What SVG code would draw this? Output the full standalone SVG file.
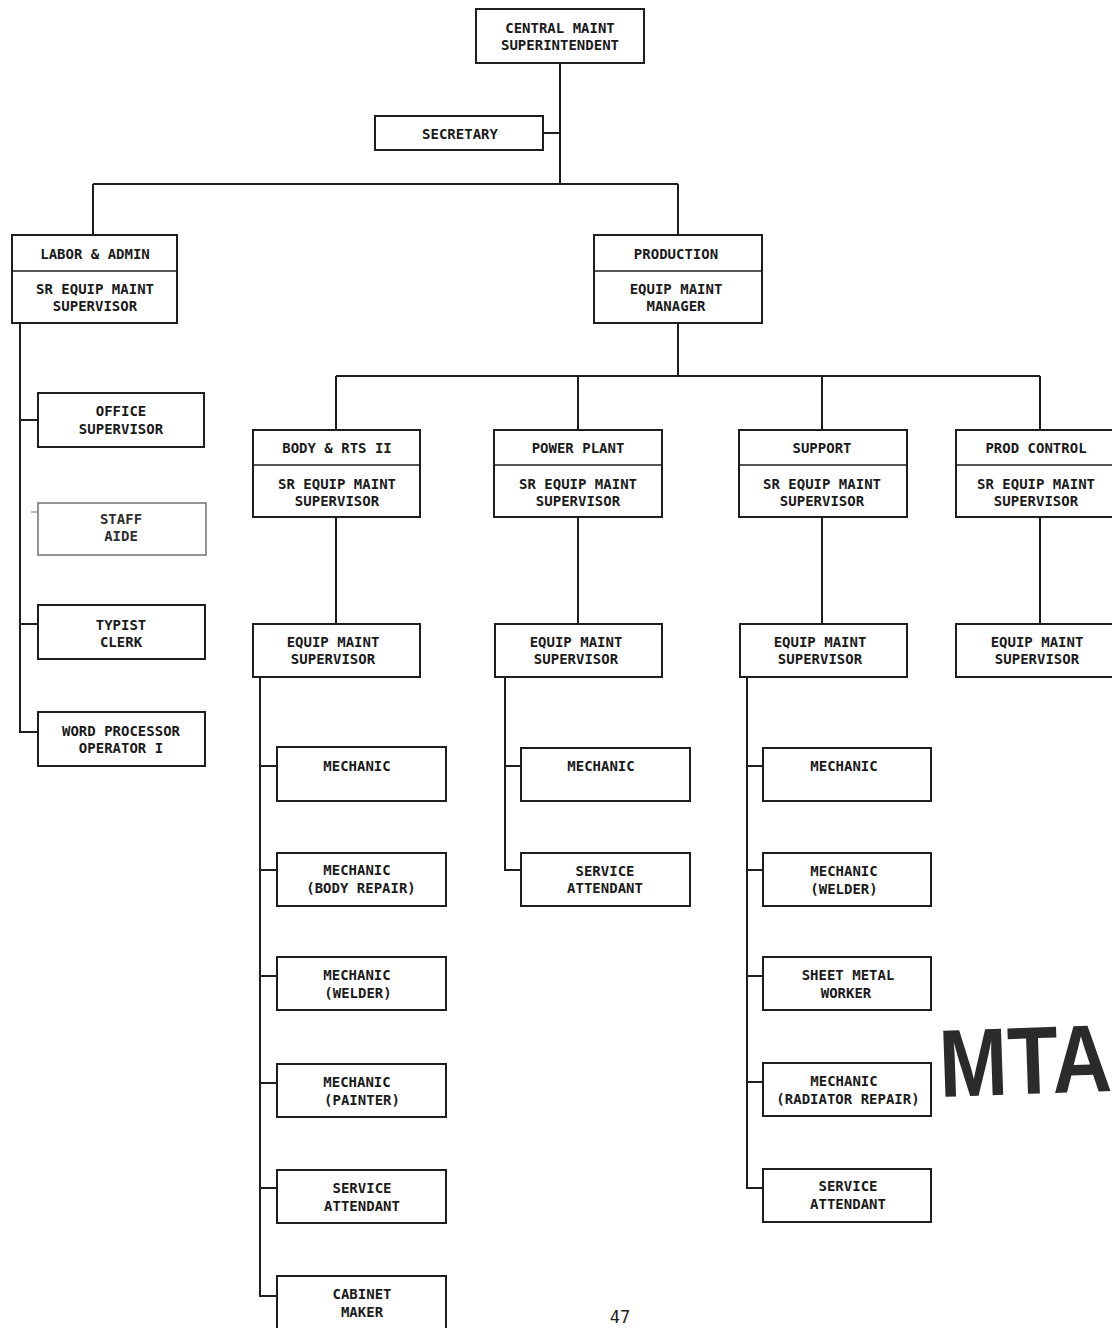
<svg xmlns="http://www.w3.org/2000/svg" width="1112" height="1328" viewBox="0 0 1112 1328">
<style>
  .box { fill: #ffffff; stroke: #1e1e1e; stroke-width: 2; }
  .faint { fill: #ffffff; stroke: #7a7a7a; stroke-width: 1.6; }
  .div { stroke: #1e1e1e; stroke-width: 1.6; }
  .t { font-family: "DejaVu Sans Mono", "Liberation Mono", monospace; font-weight: bold; font-size: 14px; fill: #1a1a1a; text-anchor: middle; }
  .tf { fill: #2e2e2e; }
  .conn line, .conn path { stroke: #1e1e1e; stroke-width: 2; fill: none; }
  .conn .fl { stroke: #a0a0a0; stroke-width: 1.5; }
  .stamp { font-family: "Liberation Sans", "DejaVu Sans", sans-serif; font-weight: bold; font-size: 96px; fill: #2b2b2b; }
  .page { font-family: "DejaVu Sans Mono", "Liberation Mono", monospace; font-size: 17px; fill: #222; text-anchor: middle; }
</style>
<rect x="0" y="0" width="1112" height="1328" fill="#ffffff"/>

<g class="conn" id="connectors">
  <line x1="560" y1="63" x2="560" y2="184"/>
  <line x1="543" y1="133" x2="560" y2="133"/>
  <line x1="93" y1="184" x2="678" y2="184"/>
  <line x1="93" y1="184" x2="93" y2="235"/>
  <line x1="678" y1="184" x2="678" y2="235"/>
  <line x1="678" y1="323" x2="678" y2="376"/>
  <line x1="336" y1="376" x2="1040" y2="376"/>
  <line x1="336" y1="376" x2="336" y2="430"/>
  <line x1="578" y1="376" x2="578" y2="430"/>
  <line x1="822" y1="376" x2="822" y2="430"/>
  <line x1="1040" y1="376" x2="1040" y2="430"/>
  <line x1="336" y1="517" x2="336" y2="624"/>
  <line x1="578" y1="517" x2="578" y2="624"/>
  <line x1="822" y1="517" x2="822" y2="624"/>
  <line x1="1040" y1="517" x2="1040" y2="624"/>
  <!-- labor & admin column -->
  <path d="M20 323 V732 H38"/>
  <line x1="20" y1="420" x2="38" y2="420"/>
  <line class="fl" x1="31" y1="512" x2="38" y2="512"/>
  <line x1="20" y1="624" x2="38" y2="624"/>
  <!-- body column -->
  <path d="M260 677 V1296 H277"/>
  <line x1="260" y1="766" x2="277" y2="766"/>
  <line x1="260" y1="870" x2="277" y2="870"/>
  <line x1="260" y1="976" x2="277" y2="976"/>
  <line x1="260" y1="1083" x2="277" y2="1083"/>
  <line x1="260" y1="1188" x2="277" y2="1188"/>
  <!-- power plant column -->
  <path d="M505 677 V870 H521"/>
  <line x1="505" y1="766" x2="521" y2="766"/>
  <!-- support column -->
  <path d="M747 677 V1188 H763"/>
  <line x1="747" y1="766" x2="763" y2="766"/>
  <line x1="747" y1="870" x2="763" y2="870"/>
  <line x1="747" y1="976" x2="763" y2="976"/>
  <line x1="747" y1="1082" x2="763" y2="1082"/>
</g>

<g id="central">
  <rect class="box" x="476" y="9" width="168" height="54"/>
  <text class="t" x="560" y="33">CENTRAL MAINT</text>
  <text class="t" x="560" y="50">SUPERINTENDENT</text>
</g>
<g id="secretary">
  <rect class="box" x="375" y="116" width="168" height="34"/>
  <text class="t" x="460" y="139">SECRETARY</text>
</g>
<g id="labor-admin">
  <rect class="box" x="12" y="235" width="165" height="88"/>
  <line class="div" x1="12" y1="271" x2="177" y2="271"/>
  <text class="t" x="95" y="259">LABOR &amp; ADMIN</text>
  <text class="t" x="95" y="294">SR EQUIP MAINT</text>
  <text class="t" x="95" y="311">SUPERVISOR</text>
</g>
<g id="production">
  <rect class="box" x="594" y="235" width="168" height="88"/>
  <line class="div" x1="594" y1="271" x2="762" y2="271"/>
  <text class="t" x="676" y="259">PRODUCTION</text>
  <text class="t" x="676" y="294">EQUIP MAINT</text>
  <text class="t" x="676" y="311">MANAGER</text>
</g>

<g id="office-supervisor">
  <rect class="box" x="38" y="393" width="166" height="54"/>
  <text class="t" x="121" y="416">OFFICE</text>
  <text class="t" x="121" y="434">SUPERVISOR</text>
</g>
<g id="staff-aide">
  <rect class="faint" x="38" y="503" width="168" height="52"/>
  <text class="t tf" x="121" y="524">STAFF</text>
  <text class="t tf" x="121" y="541">AIDE</text>
</g>
<g id="typist-clerk">
  <rect class="box" x="38" y="605" width="167" height="54"/>
  <text class="t" x="121" y="630">TYPIST</text>
  <text class="t" x="121" y="647">CLERK</text>
</g>
<g id="word-processor">
  <rect class="box" x="38" y="712" width="167" height="54"/>
  <text class="t" x="121" y="736">WORD PROCESSOR</text>
  <text class="t" x="121" y="753">OPERATOR I</text>
</g>

<g id="body-rts">
  <rect class="box" x="253" y="430" width="167" height="87"/>
  <line class="div" x1="253" y1="465" x2="420" y2="465"/>
  <text class="t" x="337" y="453">BODY &amp; RTS II</text>
  <text class="t" x="337" y="489">SR EQUIP MAINT</text>
  <text class="t" x="337" y="506">SUPERVISOR</text>
</g>
<g id="power-plant">
  <rect class="box" x="494" y="430" width="168" height="87"/>
  <line class="div" x1="494" y1="465" x2="662" y2="465"/>
  <text class="t" x="578" y="453">POWER PLANT</text>
  <text class="t" x="578" y="489">SR EQUIP MAINT</text>
  <text class="t" x="578" y="506">SUPERVISOR</text>
</g>
<g id="support">
  <rect class="box" x="739" y="430" width="168" height="87"/>
  <line class="div" x1="739" y1="465" x2="907" y2="465"/>
  <text class="t" x="822" y="453">SUPPORT</text>
  <text class="t" x="822" y="489">SR EQUIP MAINT</text>
  <text class="t" x="822" y="506">SUPERVISOR</text>
</g>
<g id="prod-control">
  <rect class="box" x="956" y="430" width="170" height="87"/>
  <line class="div" x1="956" y1="465" x2="1126" y2="465"/>
  <text class="t" x="1036" y="453">PROD CONTROL</text>
  <text class="t" x="1036" y="489">SR EQUIP MAINT</text>
  <text class="t" x="1036" y="506">SUPERVISOR</text>
</g>

<g id="body-ems">
  <rect class="box" x="253" y="624" width="167" height="53"/>
  <text class="t" x="333" y="647">EQUIP MAINT</text>
  <text class="t" x="333" y="664">SUPERVISOR</text>
</g>
<g id="power-ems">
  <rect class="box" x="495" y="624" width="167" height="53"/>
  <text class="t" x="576" y="647">EQUIP MAINT</text>
  <text class="t" x="576" y="664">SUPERVISOR</text>
</g>
<g id="support-ems">
  <rect class="box" x="740" y="624" width="167" height="53"/>
  <text class="t" x="820" y="647">EQUIP MAINT</text>
  <text class="t" x="820" y="664">SUPERVISOR</text>
</g>
<g id="prod-ems">
  <rect class="box" x="956" y="624" width="170" height="53"/>
  <text class="t" x="1037" y="647">EQUIP MAINT</text>
  <text class="t" x="1037" y="664">SUPERVISOR</text>
</g>

<g id="body-mechanic">
  <rect class="box" x="277" y="747" width="169" height="54"/>
  <text class="t" x="357" y="771">MECHANIC</text>
</g>
<g id="body-mech-body-repair">
  <rect class="box" x="277" y="853" width="169" height="53"/>
  <text class="t" x="357" y="875">MECHANIC</text>
  <text class="t" x="361" y="893">(BODY REPAIR)</text>
</g>
<g id="body-mech-welder">
  <rect class="box" x="277" y="957" width="169" height="53"/>
  <text class="t" x="357" y="980">MECHANIC</text>
  <text class="t" x="358" y="998">(WELDER)</text>
</g>
<g id="body-mech-painter">
  <rect class="box" x="277" y="1064" width="169" height="53"/>
  <text class="t" x="357" y="1087">MECHANIC</text>
  <text class="t" x="362" y="1105">(PAINTER)</text>
</g>
<g id="body-service">
  <rect class="box" x="277" y="1170" width="169" height="53"/>
  <text class="t" x="362" y="1193">SERVICE</text>
  <text class="t" x="362" y="1211">ATTENDANT</text>
</g>
<g id="body-cabinet">
  <rect class="box" x="277" y="1276" width="169" height="60"/>
  <text class="t" x="362" y="1299">CABINET</text>
  <text class="t" x="362" y="1317">MAKER</text>
</g>

<g id="power-mechanic">
  <rect class="box" x="521" y="748" width="169" height="53"/>
  <text class="t" x="601" y="771">MECHANIC</text>
</g>
<g id="power-service">
  <rect class="box" x="521" y="853" width="169" height="53"/>
  <text class="t" x="605" y="876">SERVICE</text>
  <text class="t" x="605" y="893">ATTENDANT</text>
</g>

<g id="support-mechanic">
  <rect class="box" x="763" y="748" width="168" height="53"/>
  <text class="t" x="844" y="771">MECHANIC</text>
</g>
<g id="support-mech-welder">
  <rect class="box" x="763" y="853" width="168" height="53"/>
  <text class="t" x="844" y="876">MECHANIC</text>
  <text class="t" x="844" y="894">(WELDER)</text>
</g>
<g id="support-sheet-metal">
  <rect class="box" x="763" y="957" width="168" height="53"/>
  <text class="t" x="848" y="980">SHEET METAL</text>
  <text class="t" x="846" y="998">WORKER</text>
</g>
<g id="support-mech-radiator">
  <rect class="box" x="763" y="1063" width="168" height="53"/>
  <text class="t" x="844" y="1086">MECHANIC</text>
  <text class="t" x="848" y="1104">(RADIATOR REPAIR)</text>
</g>
<g id="support-service">
  <rect class="box" x="763" y="1169" width="168" height="53"/>
  <text class="t" x="848" y="1191">SERVICE</text>
  <text class="t" x="848" y="1209">ATTENDANT</text>
</g>

<text class="stamp" transform="translate(940,1097) rotate(-2) scale(0.86,1)" x="0" y="0">MTA</text>
<text class="page" x="620" y="1323">47</text>
</svg>
